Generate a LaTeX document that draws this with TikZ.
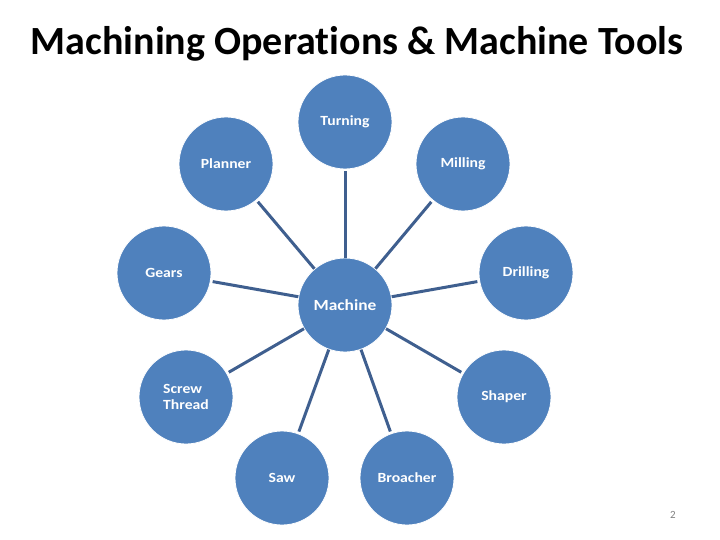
\documentclass[tikz,border=0pt]{standalone}
\usepackage{fontspec}
\setmainfont{Carlito}
\newfontfamily\labfont[FakeStretch=1.12]{Carlito}
\definecolor{cfill}{HTML}{4F81BD}
\definecolor{cline}{HTML}{3F5F8F}
\begin{document}
\begin{tikzpicture}[x=1pt,y=-1pt,
  bub/.style={circle,fill=cfill,draw=white,line width=0.8pt,minimum size=94pt,inner sep=0pt,text=white,font=\labfont\bfseries\fontsize{14}{16}\selectfont,align=center},
  link/.style={draw=cline,line width=3pt}]
\useasboundingbox (0,0) rectangle (720,540);
\node[font=\bfseries\fontsize{40}{44}\selectfont\addfontfeature{Ligatures=NoCommon},anchor=base] (title) at (357,55) {Machining Operations \& Machine Tools};
\node[bub,font=\labfont\bfseries\fontsize{15.5}{18}\selectfont] (mach) at (345,305) {Machine};
\node[bub] (turn) at (345,122) {Turning};
\node[bub] (plan) at (226,164) {Planner};
\node[bub] (mill) at (463,164) {Milling};
\node[bub] (gear) at (164,273) {Gears};
\node[bub] (dril) at (526,273) {Drilling};
\node[bub,align=left] (scre) at (186,397) {Screw\\Thread};
\node[bub] (shap) at (504,397) {Shaper};
\node[bub] (saw) at (282,478) {Saw};
\node[bub] (broa) at (407,478) {Broacher};
\foreach \n in {turn,plan,mill,gear,dril,scre,shap,saw,broa}
  \draw[link,shorten >=2pt,shorten <=0pt] (mach) -- (\n);
\node[text=gray,font=\fontsize{11}{12}\selectfont] (pg) at (673,515) {2};
\end{tikzpicture}
\end{document}
